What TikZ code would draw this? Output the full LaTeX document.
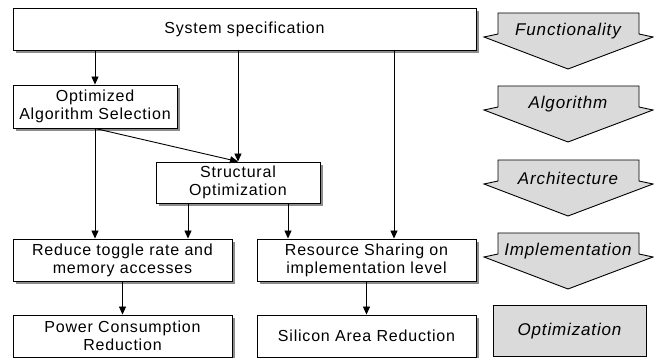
\documentclass[tikz,border=0pt]{standalone}
\usepackage{fontspec}
\setmainfont{Liberation Sans}[LetterSpace=5]
\usetikzlibrary{arrows.meta, shadows}
\definecolor{stagegray}{RGB}{218,218,218}

\begin{document}
\begin{tikzpicture}[
  x=1pt, y=-1pt,
  line width=0.9pt,
  font=\fontsize{16}{18}\selectfont,
  box/.style={draw, fill=white, align=center, inner sep=0pt,
    minimum width=219pt, minimum height=42pt,
    drop shadow={shadow xshift=3pt, shadow yshift=-3pt, fill=gray!90, opacity=1}},
  stage/.style={draw, fill=stagegray},
  stagetext/.style={font=\fontsize{17}{18}\selectfont\itshape},
  flow/.style={-{Triangle[length=8pt, width=7pt]}}
]
\useasboundingbox (0,0) rectangle (654,358);

\node[box, minimum width=463pt] (spec) at (244.5,29) {System specification};
\node[box, minimum width=164pt, minimum height=43pt] (algsel) at (95,106.5) {Optimized\\Algorithm Selection};
\node[box, minimum width=164pt, minimum height=41pt] (struct) at (238,182.5) {Structural\\Optimization};
\node[box] (toggle) at (122.5,260) {Reduce toggle rate and\\memory accesses};
\node[box] (share) at (366.5,260) {Resource Sharing on\\implementation level};
\node[box] (power) at (122.5,336) {Power Consumption\\Reduction};
\node[box] (silicon) at (366.5,336) {Silicon Area Reduction};

\draw[flow] (spec.south -| algsel) -- (algsel.north);
\draw[flow] (spec.south -| struct) -- (struct.north);
\coordinate (sharein) at ([xshift=27.5pt]share.north);
\draw[flow] (spec.south -| sharein) -- (sharein);
\draw[flow] (algsel.south) -- (algsel.south |- toggle.north);
\draw[flow] (algsel.south) -- (struct.north);
\coordinate (structl) at ([xshift=-50pt]struct.south);
\coordinate (structr) at ([xshift=50pt]struct.south);
\draw[flow] (structl) -- (structl |- toggle.north);
\draw[flow] (structr) -- (structr |- share.north);
\draw[flow] (toggle.south) -- (power.north);
\draw[flow] (share.south) -- (silicon.north);

\foreach \top/\name/\label in {13/func/Functionality, 86/algo/Algorithm,
    160/arch/Architecture, 233/impl/Implementation} {
  \draw[stage] (498,\top) -- (639,\top) -- (639,\top+21) -- (653,\top+24)
    -- (568,\top+56) -- (484,\top+24) -- (498,\top+21) -- cycle;
  \node[stagetext] (\name) at (568,\top+18) {\label};
}
\node[stage, stagetext, minimum width=153pt, minimum height=51pt] (opt) at (569.5,331) {Optimization};
\end{tikzpicture}
\end{document}
